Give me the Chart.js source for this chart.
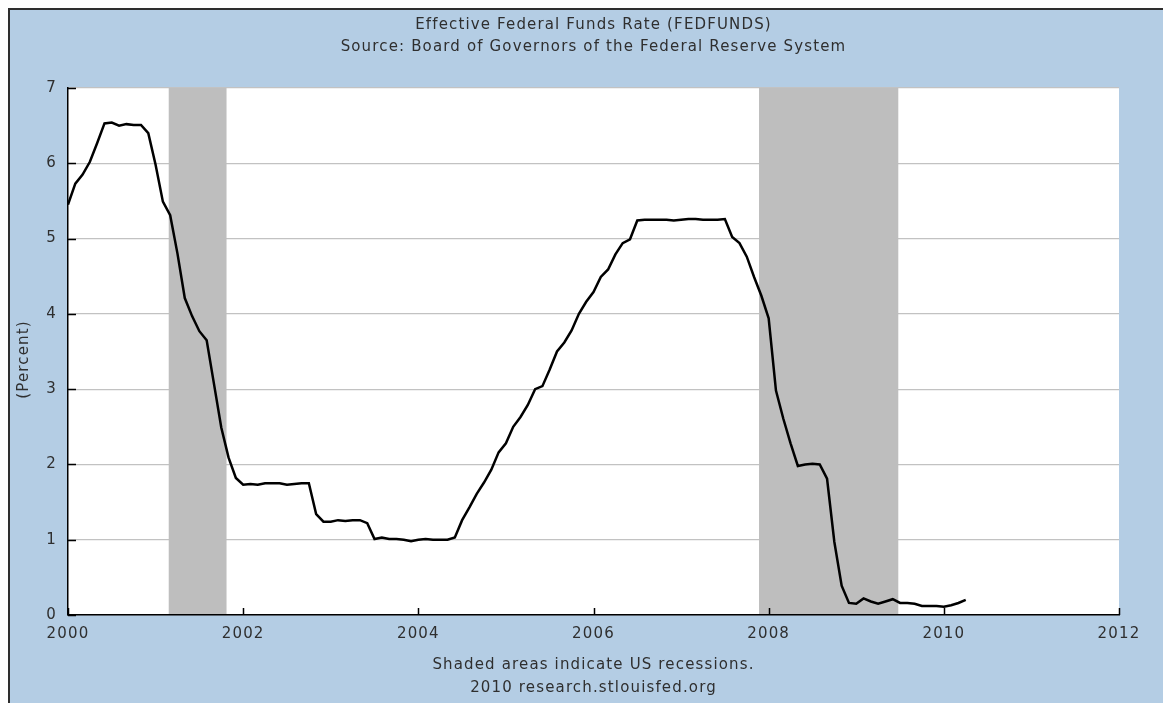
<!DOCTYPE html>
<html>
<head>
<meta charset="utf-8">
<title>Effective Federal Funds Rate (FEDFUNDS)</title>
<script src="https://cdn.jsdelivr.net/npm/chart.js@4.4.1/dist/chart.umd.min.js"></script>
<style>
  html, body { margin: 0; padding: 0; background: #fff; }
  #frame {
    position: absolute; left: 8px; top: 8px;
    width: 1153px; height: 693px;
    border-top: 2px solid #2e2e2e; border-left: 2px solid #2e2e2e;
    background: #b4cde4;
  }
  canvas { display: block; }
</style>
</head>
<body>
<div id="frame"><canvas id="fedChart" width="1153" height="693"></canvas></div>
<script>
//first month of the series
const startYear = 2000;
//monthly effective rate, Jan 2000 .. Apr 2010 (percent)
const rate2000 = [5.45, 5.73, 5.85, 6.02, 6.27, 6.53, 6.54, 6.50, 6.52, 6.51, 6.51, 6.40];
const rate2001 = [5.98, 5.49, 5.31, 4.80, 4.21, 3.97, 3.77, 3.65, 3.07, 2.49, 2.09, 1.82];
const rate2002 = [1.73, 1.74, 1.73, 1.75, 1.75, 1.75, 1.73, 1.74, 1.75, 1.75, 1.34, 1.24];
const rate2003 = [1.24, 1.26, 1.25, 1.26, 1.26, 1.22, 1.01, 1.03, 1.01, 1.01, 1.00, 0.98];
const rate2004 = [1.00, 1.01, 1.00, 1.00, 1.00, 1.03, 1.26, 1.43, 1.61, 1.76, 1.93, 2.16];
const rate2005 = [2.28, 2.50, 2.63, 2.79, 3.00, 3.04, 3.26, 3.50, 3.62, 3.78, 4.00, 4.16];
const rate2006 = [4.29, 4.49, 4.59, 4.79, 4.94, 4.99, 5.24, 5.25, 5.25, 5.25, 5.25, 5.24];
const rate2007 = [5.25, 5.26, 5.26, 5.25, 5.25, 5.25, 5.26, 5.02, 4.94, 4.76, 4.49, 4.24];
const rate2008 = [3.94, 2.98, 2.61, 2.28, 1.98, 2.00, 2.01, 2.00, 1.81, 0.97, 0.39, 0.16];
const rate2009 = [0.15, 0.22, 0.18, 0.15, 0.18, 0.21, 0.16, 0.16, 0.15, 0.12, 0.12, 0.12];
const rate2010 = [0.11, 0.13, 0.16, 0.20];
//recessions (decimal years, start / end)
const recStart = [2001.15, 2007.89];
const recEnd = [2001.81, 2009.48];
//axis ticks
const yearTicks = [2000, 2002, 2004, 2006, 2008, 2010, 2012];
const pctTicks = [0, 1, 2, 3, 4, 5, 6, 7];
//texts
const titleLines = ["Effective Federal Funds Rate (FEDFUNDS)", "Source: Board of Governors of the Federal Reserve System"];
const footLines = ["Shaded areas indicate US recessions.", "2010 research.stlouisfed.org"];
const yTitle = "(Percent)";

const FONT = "'DejaVu Sans', Verdana, sans-serif";
const TXT = "#2f2f2f";
const SPACE = "1.15px";

//join the years into one monthly list
const rates = [].concat(rate2000, rate2001, rate2002, rate2003, rate2004, rate2005,
  rate2006, rate2007, rate2008, rate2009, rate2010);
const points = rates.map((v, i) => ({ x: startYear + i / 12, y: v }));

//spaced-out lettering like the original
function spacing(chart) {
  chart.ctx.letterSpacing = SPACE;
}

const fredPlugin = {
  id: "fred",
  beforeUpdate: spacing,
  //white plot area
  beforeDraw(chart) {
    spacing(chart);
    const { ctx, chartArea } = chart;
    ctx.save();
    ctx.fillStyle = "#fff";
    ctx.fillRect(chartArea.left, chartArea.top, chartArea.right - chartArea.left, chartArea.bottom - chartArea.top);
    ctx.restore();
  },
  //shaded recessions, under the line but over the grid
  beforeDatasetsDraw(chart) {
    const { ctx, chartArea, scales } = chart;
    ctx.save();
    ctx.fillStyle = "#bebebe";
    recStart.forEach((s, i) => {
      const x0 = scales.x.getPixelForValue(s);
      const x1 = scales.x.getPixelForValue(recEnd[i]);
      ctx.fillRect(x0, chartArea.top, x1 - x0, chartArea.bottom - chartArea.top - 1);
    });
    ctx.restore();
  },
  //inner tick marks + titles
  afterDatasetsDraw(chart) {
    const { ctx, chartArea, scales } = chart;
    ctx.save();
    ctx.strokeStyle = "#000";
    ctx.lineWidth = 1.5;
    ctx.beginPath();
    yearTicks.forEach(t => {
      const x = Math.round(scales.x.getPixelForValue(t)) + 0.5;
      ctx.moveTo(x, chartArea.bottom);
      ctx.lineTo(x, chartArea.bottom - 7);
    });
    pctTicks.forEach(t => {
      const y = Math.round(scales.y.getPixelForValue(t)) + 0.5;
      ctx.moveTo(chartArea.left, y);
      ctx.lineTo(chartArea.left + 8, y);
    });
    ctx.stroke();

    //text centred on the plot
    const cx = (chartArea.left + chartArea.right) / 2;
    ctx.fillStyle = TXT;
    ctx.font = "15px " + FONT;
    ctx.letterSpacing = SPACE;
    ctx.textAlign = "center";
    ctx.textBaseline = "middle";
    titleLines.forEach((t, i) => ctx.fillText(t, cx, 15 + i * 22));
    footLines.forEach((t, i) => ctx.fillText(t, cx, chartArea.bottom + 50 + i * 23));
    ctx.translate(14, (chartArea.top + chartArea.bottom) / 2 + 8);
    ctx.rotate(-Math.PI / 2);
    ctx.fillText(yTitle, 0, 0);
    ctx.restore();
  }
};

new Chart(document.getElementById("fedChart").getContext("2d"), {
  type: "line",
  data: {
    datasets: [{
      label: "FEDFUNDS",
      data: points,
      borderColor: "#000",
      borderWidth: 2.5,
      pointRadius: 0,
      tension: 0,
      fill: false
    }]
  },
  options: {
    responsive: false,
    animation: false,
    devicePixelRatio: 1,
    layout: { padding: { left: 0, right: 44, top: 78, bottom: 48 } },
    plugins: {
      legend: { display: false },
      tooltip: { enabled: false }
    },
    scales: {
      x: {
        type: "linear",
        min: 2000,
        max: 2012,
        afterBuildTicks: s => { s.ticks = yearTicks.map(v => ({ value: v })); },
        afterFit: s => { s.height = 40; },
        grid: { display: false, drawTicks: false },
        border: { display: true, color: "#000", width: 1.5 },
        ticks: {
          color: TXT,
          padding: 10,
          maxRotation: 0,
          font: { family: FONT, size: 15 },
          callback: v => String(v)
        }
      },
      y: {
        min: 0,
        max: 7,
        afterBuildTicks: s => { s.ticks = pctTicks.map(v => ({ value: v })); },
        afterFit: s => { s.width = 58; },
        grid: { color: "#c2c2c2", lineWidth: 1.2, drawTicks: false },
        border: { display: true, color: "#000", width: 1.5 },
        ticks: {
          color: TXT,
          padding: 11,
          font: { family: FONT, size: 15 },
          callback: v => String(v)
        }
      }
    }
  },
  plugins: [fredPlugin]
});
</script>
</body>
</html>
